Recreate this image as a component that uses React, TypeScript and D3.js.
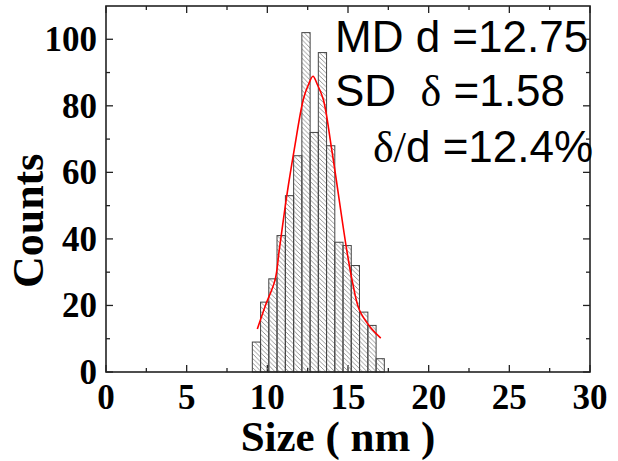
import React from "react";
import * as d3 from "d3";

const binStarts = [9.07, 9.58, 10.09, 10.6, 11.12, 11.63, 12.14, 12.65, 13.16, 13.67, 14.18, 14.69, 15.2, 15.72, 16.23, 16.74];
const binWidth = 0.512;
const counts = [9, 21, 28, 41, 53, 65, 102, 72, 96, 68, 39, 38, 32, 18, 14, 4];

const fitX = [9.38, 9.86, 10.48, 10.74, 11.2, 11.67, 12.23, 12.55, 12.83, 13.1, 13.47, 13.99, 14.92, 15.29, 15.7, 16.36, 17.03];
const fitY = [12.9, 19.7, 27.7, 36.7, 52.8, 66.9, 81.9, 86.4, 88.9, 86.4, 81.9, 66.9, 36.7, 26.7, 18.7, 13.6, 10.2];

const xTicks = [0, 5, 10, 15, 20, 25, 30];
const xMinor = [2.5, 7.5, 12.5, 17.5, 22.5, 27.5];
const yTicks = [0, 20, 40, 60, 80, 100];
const yMinor = [10, 30, 50, 70, 90];

const W = 618, H = 461;
const L = 106, R = 590, T = 6, B = 372;

export default function App() {
  const x = d3.scaleLinear().domain([0, 30]).range([L, R]);
  const y = d3.scaleLinear().domain([0, 110]).range([B, T]);
  const line = d3
    .line<number>()
    .x((_, i) => x(fitX[i]))
    .y((d) => y(d))
    .curve(d3.curveCatmullRom.alpha(0.5));
  const axisColor = "#222";
  const serif = "'Liberation Serif', 'Times New Roman', serif";
  const sans = "'Liberation Sans', Arial, sans-serif";
  return (
    <svg width={W} height={H} style={{ position: "absolute", left: 0, top: 0, background: "#fff" }}>
      <defs>
        <pattern id="hatch" width={4.6} height={4.6} patternUnits="userSpaceOnUse">
          <path d="M-1,-1 L5.6,5.6 M3.6,-1 L5.6,1 M-1,3.6 L1,5.6" stroke="#8a8a8a" strokeWidth={0.9} />
        </pattern>
      </defs>
      <rect x={0} y={0} width={W} height={H} fill="#fff" />
      {/* ticks */}
      <g stroke={axisColor} strokeWidth={1.3}>
        {xTicks.map((t) => (
          <g key={"xt" + t}>
            <line x1={x(t)} x2={x(t)} y1={B} y2={B - 7} />
            <line x1={x(t)} x2={x(t)} y1={T} y2={T + 7} />
          </g>
        ))}
        {xMinor.map((t) => (
          <g key={"xm" + t}>
            <line x1={x(t)} x2={x(t)} y1={B} y2={B - 4} />
            <line x1={x(t)} x2={x(t)} y1={T} y2={T + 4} />
          </g>
        ))}
        {yTicks.map((t) => (
          <g key={"yt" + t}>
            <line x1={L} x2={L + 7} y1={y(t)} y2={y(t)} />
            <line x1={R} x2={R - 7} y1={y(t)} y2={y(t)} />
          </g>
        ))}
        {yMinor.map((t) => (
          <g key={"ym" + t}>
            <line x1={L} x2={L + 4} y1={y(t)} y2={y(t)} />
            <line x1={R} x2={R - 4} y1={y(t)} y2={y(t)} />
          </g>
        ))}
      </g>
      {/* bars */}
      <g>
        {counts.map((c, i) => (
          <rect
            key={"b" + i}
            x={x(binStarts[i])}
            y={y(c)}
            width={x(binStarts[i] + binWidth) - x(binStarts[i])}
            height={y(0) - y(c)}
            fill="url(#hatch)"
            stroke="#444"
            strokeWidth={1}
          />
        ))}
      </g>
      {/* fit curve */}
      <path d={line(fitY) || ""} fill="none" stroke="#ff0000" strokeWidth={1.6} />
      {/* frame */}
      <rect x={L} y={T} width={R - L} height={B - T} fill="none" stroke={axisColor} strokeWidth={1.6} />
      {/* tick labels */}
      <g fontFamily={serif} fontWeight="bold" fontSize={35} fill="#000">
        {xTicks.map((t) => (
          <text key={"xl" + t} x={x(t)} y={409} textAnchor="middle">
            {t}
          </text>
        ))}
        {yTicks.map((t) => (
          <text key={"yl" + t} x={97} y={y(t) + 12} textAnchor="end">
            {t}
          </text>
        ))}
      </g>
      <text x={338} y={451} textAnchor="middle" fontFamily={serif} fontWeight="bold" fontSize={43}>
        Size ( nm )
      </text>
      <text
        transform={`translate(43,${(151.7 + 290) / 2}) rotate(-90)`}
        textAnchor="middle"
        fontFamily={serif}
        fontWeight="bold"
        fontSize={44}
      >
        Counts
      </text>
      {/* annotations */}
      <g fontFamily={sans} fontSize={44} fill="#000">
        <text x={335} y={52}>MD d =12.75</text>
        <text x={335} y={106} style={{ whiteSpace: "pre" }}>
          {"SD  "}
          <tspan fontFamily={serif}>δ</tspan>
          {" =1.58"}
        </text>
        <text x={373} y={162}>
          <tspan fontFamily={serif}>δ/</tspan>
          {"d =12.4%"}
        </text>
      </g>
    </svg>
  );
}
